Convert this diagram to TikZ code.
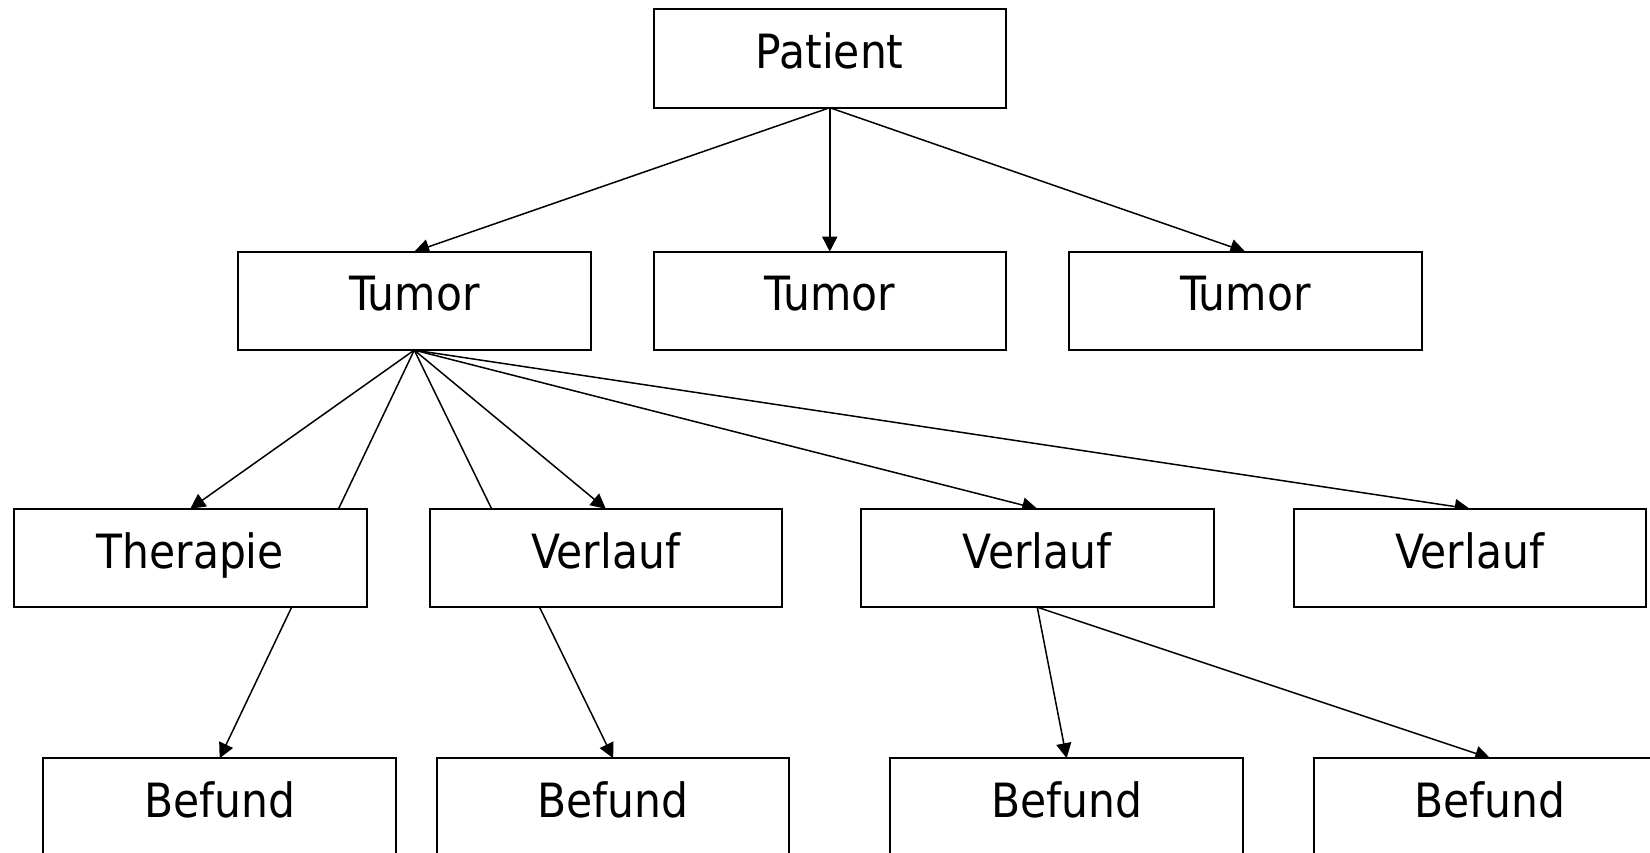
\documentclass[tikz,border=0pt]{standalone}
\usepackage{fontspec}
\setmainfont{DejaVu Sans Condensed}
\usepackage{tikz}
\usetikzlibrary{positioning,arrows.meta,backgrounds}

\tikzset{
  entity/.style={draw, line width=1pt, fill=white, minimum width=176.25pt, minimum height=49.2pt,
    inner sep=0pt, outer sep=0pt, text height=17pt, text depth=7pt,
    font=\fontsize{23.6pt}{28pt}\selectfont},
  link/.style={-{Triangle[length=7.5pt, width=7.5pt]}, line width=0.75pt}
}

\begin{document}
\begin{tikzpicture}
  \useasboundingbox (0,0) rectangle (825pt,-426pt);

  \node[entity] at (414.875pt,-29.25pt)           (patient) {Patient};
  \node[entity, below=72pt of patient]            (tumorB) {Tumor};
  \node[entity, left=31.5pt of tumorB]            (tumorA) {Tumor};
  \node[entity, right=31.5pt of tumorB]           (tumorC) {Tumor};
  \node[entity, below=79.35pt of tumorA, xshift=-112pt] (therapie) {Therapie};
  \node[entity, right=31.5pt of therapie]         (verlaufA) {Verlauf};
  \node[entity, right=39.5pt of verlaufA]         (verlaufB) {Verlauf};
  \node[entity, right=40pt of verlaufB]           (verlaufC) {Verlauf};
  \node[entity, below=75.5pt of therapie, xshift=14.7pt] (befundA) {Befund};
  \node[entity, right=20.5pt of befundA]          (befundB) {Befund};
  \node[entity, below=75.5pt of verlaufB, xshift=14.7pt] (befundC) {Befund};
  \node[entity, right=35.5pt of befundC]          (befundD) {Befund};

  \begin{scope}[on background layer]
    \fill[white] (0,0) rectangle (825pt,-426pt);
    \foreach \t in {tumorA, tumorB, tumorC}
      \draw[link] (patient.south) -- (\t.north);
    \foreach \t in {therapie, verlaufA, verlaufB, verlaufC, befundA, befundB}
      \draw[link] (tumorA.south) -- (\t.north);
    \draw[link] (verlaufB.south) -- (befundC.north);
    \draw[link] (verlaufB.south) -- (befundD.north);
  \end{scope}
\end{tikzpicture}
\end{document}
